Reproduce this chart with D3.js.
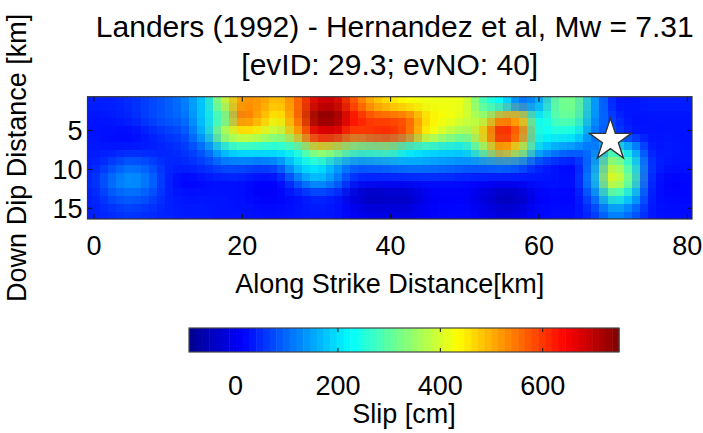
<!DOCTYPE html>
<html>
<head>
<meta charset="utf-8">
<script src="https://cdn.jsdelivr.net/npm/d3@7/dist/d3.min.js"></script>
<style>
  body { margin: 0; background: #fff; }
  text { font-family: "Liberation Sans", Arial, sans-serif; fill: #000; }
</style>
</head>
<body>
<svg id="chart" width="703" height="433"></svg>
<script>

// subfault centres (km)
var alongStrike = [0, 2.5, 5, 7.5, 10, 12.5, 15, 17.5, 20, 22.5, 25, 27.5, 30, 32.5, 35, 37.5,
  40, 42.5, 45, 47.5, 50, 52.5, 55, 57.5, 60, 62.5, 65, 67.5, 70, 72.5, 75, 77.5, 80];
var downDip = [1.5, 3.5, 5.5, 7.5, 9.5, 11.5, 13.5, 15.5];

// slip (cm), one row per down-dip position
var slip = [
  [40, 40, 50, 70, 90, 120, 190, 380, 520, 520, 480, 560, 680, 690, 580, 500, 460, 430, 420, 420, 410, 280, 220, 110, 150, 310, 320, 150, 40, 30, 40, 40, 40],
  [30, 35, 45, 70, 90, 110, 190, 300, 550, 500, 440, 560, 740, 740, 640, 590, 580, 560, 460, 430, 400, 360, 520, 480, 220, 300, 300, 140, 60, 30, 30, 30, 30],
  [30, 25, 20, 40, 60, 80, 170, 370, 440, 410, 360, 500, 650, 660, 580, 600, 610, 560, 440, 380, 340, 480, 660, 560, 240, 240, 230, 110, 80, 40, 30, 30, 30],
  [35, 35, 40, 40, 45, 60, 100, 190, 230, 225, 230, 260, 380, 360, 300, 290, 300, 240, 210, 200, 200, 330, 500, 380, 180, 130, 110, 110, 270, 180, 40, 35, 30],
  [40, 70, 100, 80, 45, 45, 60, 90, 90, 80, 100, 190, 220, 160, 110, 110, 120, 130, 130, 120, 110, 110, 120, 100, 50, 30, 25, 140, 380, 260, 60, 30, 30],
  [50, 110, 140, 110, 40, 15, 25, 30, 30, 15, 20, 100, 160, 120, 40, 25, 25, 25, 30, 30, 25, 20, 15, 20, 30, 30, 30, 160, 430, 300, 50, 10, 20],
  [40, 80, 100, 80, 40, 30, 30, 30, 25, 10, 10, 30, 50, 40, -20, -50, -40, -40, 0, 10, 10, -20, -50, -40, 10, 20, 20, 110, 270, 190, 40, 20, 20],
  [40, 50, 60, 50, 40, 35, 35, 30, 30, 25, 25, 30, 35, 30, 10, -10, -10, -10, 10, 20, 20, 0, -20, -10, 20, 25, 25, 60, 130, 100, 35, 25, 25]
];

// hypocentre (km)
var hypoAlong = 69.7;
var hypoDip = 6.3;

var xTicks = [0, 20, 40, 60, 80];
var yTicks = [5, 10, 15];
var slipLimits = [-90, 750];
var slipTicks = [0, 200, 400, 600];
var slipLevels = 64;

var svg = d3.select('#chart');

var plot = {left: 87.5, right: 692, top: 96.7, bottom: 219};
var bar = {left: 189, right: 619, top: 328, bottom: 352};

var xScale = d3.scaleLinear().domain([-0.8, 80.7]).range([plot.left, plot.right]);
var yScale = d3.scaleLinear().domain([0.7, 16.45]).range([plot.top, plot.bottom]);

// jet colormap spread over the slip limits
var jetStops = [0, 0.125, 0.375, 0.625, 0.875, 1];
var jetColors = ['#00008f', '#0000ff', '#00ffff', '#ffff00', '#ff0000', '#800000'];
var color = d3.scaleLinear()
  .domain(jetStops.map(function(t) {
    return slipLimits[0] + t * (slipLimits[1] - slipLimits[0]);
  }))
  .range(jetColors)
  .clamp(true);

// one canvas pixel per subfault
var cells = document.createElement('canvas');
cells.width = alongStrike.length;
cells.height = downDip.length;
var ctx = cells.getContext('2d');
slip.forEach(function(row, j) {
  row.forEach(function(v, i) {
    ctx.fillStyle = color(v);
    ctx.fillRect(i, j, 1, 1);
  });
});

var dx = (alongStrike[1] - alongStrike[0]) / 2;
var dz = (downDip[1] - downDip[0]) / 2;
var x0 = xScale(alongStrike[0] - dx);
var x1 = xScale(alongStrike[alongStrike.length - 1] + dx);
var y0 = yScale(downDip[0] - dz);
var y1 = yScale(downDip[downDip.length - 1] + dz);

// resample the subfault grid to roughly 8px display pixels
var fine = document.createElement('canvas');
fine.width = Math.round((x1 - x0) / 8);
fine.height = Math.round((y1 - y0) / 8);
var fctx = fine.getContext('2d');
fctx.imageSmoothingEnabled = true;
fctx.imageSmoothingQuality = 'high';
fctx.drawImage(cells, 0, 0, fine.width, fine.height);

svg.append('clipPath').attr('id', 'plotClip')
  .append('rect')
  .attr('x', plot.left).attr('y', plot.top)
  .attr('width', plot.right - plot.left).attr('height', plot.bottom - plot.top);

svg.append('image')
  .attr('clip-path', 'url(#plotClip)')
  .attr('href', fine.toDataURL())
  .attr('preserveAspectRatio', 'none')
  .style('image-rendering', 'pixelated')
  .attr('x', x0)
  .attr('y', y0)
  .attr('width', x1 - x0)
  .attr('height', y1 - y0);

// hypocentre star
svg.append('path')
  .attr('d', d3.symbol().type(d3.symbolStar).size(545)())
  .attr('transform', 'translate(' + xScale(hypoAlong) + ',' + yScale(hypoDip) + ')')
  .attr('fill', '#fff')
  .attr('stroke', '#333')
  .attr('stroke-width', 1.4);

// axes, ticks pointing inward on all four sides
function styleAxis(g) {
  g.select('.domain').remove();
  g.selectAll('.tick line').attr('stroke', '#111');
  g.selectAll('text').style('font-size', '27px').attr('fill', '#000');
}

svg.append('g')
  .attr('transform', 'translate(0,' + plot.bottom + ')')
  .call(d3.axisBottom(xScale).tickValues(xTicks).tickSize(-5))
  .call(styleAxis)
  .call(function(g) {
    g.selectAll('text').attr('y', 36).attr('dy', null);
  });

svg.append('g')
  .attr('transform', 'translate(0,' + plot.top + ')')
  .call(d3.axisTop(xScale).tickValues(xTicks).tickSize(-5).tickFormat(''))
  .call(styleAxis);

svg.append('g')
  .attr('transform', 'translate(' + plot.left + ',0)')
  .call(d3.axisLeft(yScale).tickValues(yTicks).tickSize(-5).tickPadding(5))
  .call(styleAxis)
  .call(function(g) {
    g.selectAll('text').attr('dy', '0.36em');
  });

svg.append('g')
  .attr('transform', 'translate(' + plot.right + ',0)')
  .call(d3.axisRight(yScale).tickValues(yTicks).tickSize(-5).tickFormat(''))
  .call(styleAxis);

svg.append('rect')
  .attr('x', plot.left).attr('y', plot.top)
  .attr('width', plot.right - plot.left).attr('height', plot.bottom - plot.top)
  .attr('fill', 'none')
  .attr('stroke', '#333')
  .attr('stroke-width', 1.2);

// titles and axis labels
var midX = (plot.left + plot.right) / 2;

svg.append('text')
  .attr('x', midX + 5).attr('y', 37)
  .attr('text-anchor', 'middle')
  .style('font-size', '30px')
  .text('Landers (1992) - Hernandez et al, Mw = 7.31');

svg.append('text')
  .attr('x', midX).attr('y', 75)
  .attr('text-anchor', 'middle')
  .style('font-size', '30px')
  .text('[evID: 29.3; evNO: 40]');

svg.append('text')
  .attr('x', midX).attr('y', 293)
  .attr('text-anchor', 'middle')
  .style('font-size', '27px')
  .text('Along Strike Distance[km]');

svg.append('text')
  .attr('transform', 'translate(26,' + ((plot.top + plot.bottom) / 2) + ') rotate(-90)')
  .attr('text-anchor', 'middle')
  .style('font-size', '27px')
  .text('Down Dip Distance [km]');

// colour bar
var barScale = d3.scaleLinear().domain(slipLimits).range([bar.left, bar.right]);
var levels = d3.range(slipLevels);
var levelWidth = (slipLimits[1] - slipLimits[0]) / slipLevels;

svg.append('g').selectAll('rect')
  .data(levels)
  .enter()
  .append('rect')
  .attr('x', function(k) { return barScale(slipLimits[0] + k * levelWidth); })
  .attr('y', bar.top)
  .attr('width', function(k) {
    return barScale(slipLimits[0] + (k + 1) * levelWidth) - barScale(slipLimits[0] + k * levelWidth) + 0.5;
  })
  .attr('height', bar.bottom - bar.top)
  .attr('fill', function(k) { return color(slipLimits[0] + (k + 0.5) * levelWidth); });

svg.append('g')
  .attr('transform', 'translate(0,' + bar.bottom + ')')
  .call(d3.axisBottom(barScale).tickValues(slipTicks).tickSize(-4))
  .call(styleAxis)
  .call(function(g) {
    g.selectAll('text').attr('y', 43).attr('dy', null);
  });

svg.append('g')
  .attr('transform', 'translate(0,' + bar.top + ')')
  .call(d3.axisTop(barScale).tickValues(slipTicks).tickSize(-4).tickFormat(''))
  .call(styleAxis);

svg.append('rect')
  .attr('x', bar.left).attr('y', bar.top)
  .attr('width', bar.right - bar.left).attr('height', bar.bottom - bar.top)
  .attr('fill', 'none')
  .attr('stroke', '#444')
  .attr('stroke-width', 1.2);

svg.append('text')
  .attr('x', (bar.left + bar.right) / 2).attr('y', 423)
  .attr('text-anchor', 'middle')
  .style('font-size', '27px')
  .text('Slip [cm]');

</script>
</body>
</html>
